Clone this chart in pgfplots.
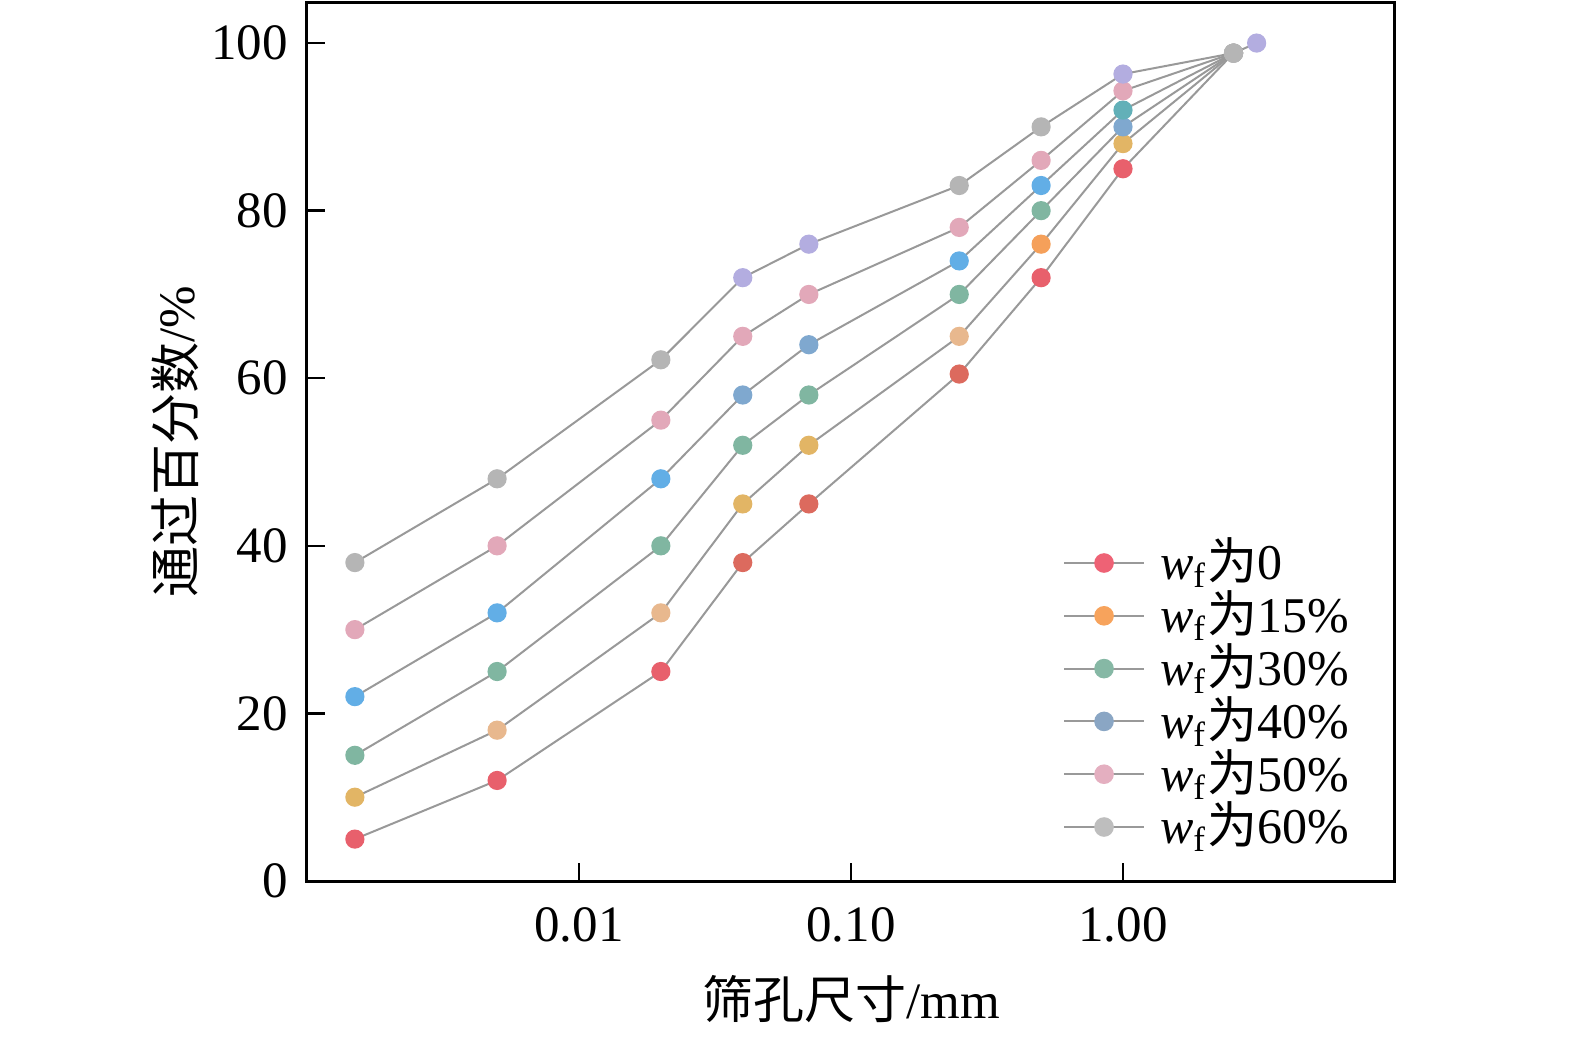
\documentclass[border=0pt]{standalone}
\usepackage{pgfplots}
\usepackage{pgfplotstable}
\pgfplotsset{compat=1.18}
\usepackage{fontspec}
\setmainfont{Liberation Serif}
\newfontfamily\cjk{Noto Sans CJK SC}

\definecolor{lg}{HTML}{999999}
\definecolor{cr}{HTML}{E8606C}
\definecolor{crb}{HTML}{DC6A5E}
\definecolor{cgo}{HTML}{E2B565}
\definecolor{ctn}{HTML}{E8B88E}
\definecolor{cor}{HTML}{F5A05A}
\definecolor{ctl}{HTML}{80B6A1}
\definecolor{ctb}{HTML}{62B0B8}
\definecolor{cbl}{HTML}{62AEE6}
\definecolor{csb}{HTML}{7FA8CF}
\definecolor{cpk}{HTML}{E2A8B9}
\definecolor{cgr}{HTML}{B5B5B5}
\definecolor{cpu}{HTML}{B3ADE0}
% legend colours
\definecolor{L0}{HTML}{EE6275}
\definecolor{L15}{HTML}{F7A35C}
\definecolor{L30}{HTML}{86B8A5}
\definecolor{L40}{HTML}{8AA6C4}
\definecolor{L50}{HTML}{E4AFC0}
\definecolor{L60}{HTML}{BEBEBE}

\pgfplotstableread{
x y c
0.0015 5 r
0.005 12 r
0.02 25 r
0.04 38 rb
0.07 45 rb
0.25 60.5 rb
0.5 72 r
1 85 r
2.55 98.8 gr
}\sA
\pgfplotstableread{
x y c
0.0015 10 go
0.005 18 tn
0.02 32 tn
0.04 45 go
0.07 52 go
0.25 65 tn
0.5 76 or
1 88 go
2.55 98.8 gr
}\sB
\pgfplotstableread{
x y c
0.0015 15 tl
0.005 25 tl
0.02 40 tl
0.04 52 tl
0.07 58 tl
0.25 70 tl
0.5 80 tl
1 90 sb
2.55 98.8 gr
}\sC
\pgfplotstableread{
x y c
0.0015 22 bl
0.005 32 bl
0.02 48 bl
0.04 58 sb
0.07 64 sb
0.25 74 bl
0.5 83 bl
1 92 tb
2.55 98.8 gr
}\sD
\pgfplotstableread{
x y c
0.0015 30 pk
0.005 40 pk
0.02 55 pk
0.04 65 pk
0.07 70 pk
0.25 78 pk
0.5 86 pk
1 94.3 pk
2.55 98.8 gr
}\sE
\pgfplotstableread{
x y c
0.0015 38 gr
0.005 48 gr
0.02 62.2 gr
0.04 72 pu
0.07 76 pu
0.25 83 gr
0.5 90 gr
1 96.3 pu
2.55 98.8 gr
3.1 100 pu
}\sF

\pgfplotsset{
  lineplot/.style={lg, line width=0.5pt, no marks, forget plot},
  markplot/.style={scatter, only marks, mark=*, mark size=2.2pt, forget plot,
    point meta=explicit symbolic,
    scatter/classes={
      r={draw=cr,fill=cr}, rb={draw=crb,fill=crb},
      go={draw=cgo,fill=cgo}, tn={draw=ctn,fill=ctn}, or={draw=cor,fill=cor},
      tl={draw=ctl,fill=ctl}, tb={draw=ctb,fill=ctb},
      bl={draw=cbl,fill=cbl}, sb={draw=csb,fill=csb},
      pk={draw=cpk,fill=cpk}, gr={draw=cgr,fill=cgr}, pu={draw=cpu,fill=cpu}}},
}

\begin{document}
\begin{tikzpicture}
\begin{axis}[
  name=ax,
  scale only axis,
  width=272pt, height=219.75pt,
  xmode=log, log basis x=10,
  xmin=0.001, xmax=10,
  ymin=0, ymax=104.9,
  axis line style={line width=0.75pt},
  tick align=inside,
  tick pos=left,
  xminorticks=false,
  major tick length=4.5pt,
  tick style={black, line width=0.6pt},
  xtick={0.01,0.1,1},
  xticklabels={0.01,0.10,1.00},
  ytick={0,20,40,60,80,100},
  /pgf/number format/assume math mode=true,
  tick label style={font=\fontsize{12.75}{14}\selectfont},
  xticklabel style={yshift=-3pt},
  yticklabel style={xshift=-1.3pt},
  label style={font=\fontsize{12.75}{15}\selectfont},
  xlabel={{\cjk 筛孔尺寸}/mm},
  ylabel={{\cjk 通过百分数}/\%},
  xlabel style={at={(axis description cs:0.5,0)}, anchor=center, yshift=-29.5pt},
  ylabel style={at={(axis description cs:0,0.5)}, anchor=center, yshift=33pt},
  legend cell align=left,
  legend image code/.code={\draw[mark repeat=2,mark phase=2,#1] plot coordinates {(0pt,0pt) (10pt,0pt) (20pt,0pt)};},
  legend style={at={(0.6949,0.3918)}, anchor=north west, draw=none, fill=none,
    inner sep=0pt, outer sep=0pt, row sep=0pt, column sep=3.75pt,
    font=\fontsize{12.5}{14}\selectfont,
    nodes={inner xsep=0pt, inner ysep=0pt, text height=10.8pt, text depth=2.4pt}},
]
\addplot[lineplot] table[x=x,y=y] {\sA};
\addplot[lineplot] table[x=x,y=y] {\sB};
\addplot[lineplot] table[x=x,y=y] {\sC};
\addplot[lineplot] table[x=x,y=y] {\sD};
\addplot[lineplot] table[x=x,y=y] {\sE};
\addplot[lineplot] table[x=x,y=y] {\sF};
\addplot[markplot] table[x=x,y=y,meta=c] {\sA};
\addplot[markplot] table[x=x,y=y,meta=c] {\sB};
\addplot[markplot] table[x=x,y=y,meta=c] {\sC};
\addplot[markplot] table[x=x,y=y,meta=c] {\sD};
\addplot[markplot] table[x=x,y=y,meta=c] {\sE};
\addplot[markplot] table[x=x,y=y,meta=c] {\sF};

\addlegendimage{lg, line width=0.5pt, mark=*, mark size=2.2pt, mark options={draw=L0,fill=L0}}
\addlegendentry{{\itshape w}\textsubscript{f}{\cjk 为}0}
\addlegendimage{lg, line width=0.5pt, mark=*, mark size=2.2pt, mark options={draw=L15,fill=L15}}
\addlegendentry{{\itshape w}\textsubscript{f}{\cjk 为}15\%}
\addlegendimage{lg, line width=0.5pt, mark=*, mark size=2.2pt, mark options={draw=L30,fill=L30}}
\addlegendentry{{\itshape w}\textsubscript{f}{\cjk 为}30\%}
\addlegendimage{lg, line width=0.5pt, mark=*, mark size=2.2pt, mark options={draw=L40,fill=L40}}
\addlegendentry{{\itshape w}\textsubscript{f}{\cjk 为}40\%}
\addlegendimage{lg, line width=0.5pt, mark=*, mark size=2.2pt, mark options={draw=L50,fill=L50}}
\addlegendentry{{\itshape w}\textsubscript{f}{\cjk 为}50\%}
\addlegendimage{lg, line width=0.5pt, mark=*, mark size=2.2pt, mark options={draw=L60,fill=L60}}
\addlegendentry{{\itshape w}\textsubscript{f}{\cjk 为}60\%}
\end{axis}
\pgfresetboundingbox
\path (-76.75pt,-39.5pt) rectangle (317pt,220.25pt);
\end{tikzpicture}
\end{document}
